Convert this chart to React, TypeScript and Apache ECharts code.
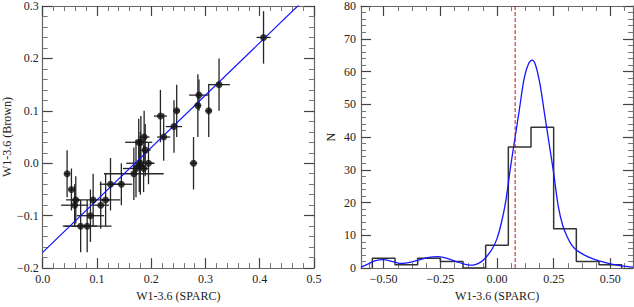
import React, { useEffect, useRef } from "react";
import * as echarts from "echarts";

// ---- Left panel: W1-3.6 (SPARC) vs W1-3.6 (Brown) ----
const sparcX = [0.045, 0.053, 0.061, 0.059, 0.093, 0.088, 0.070, 0.082, 0.107, 0.116, 0.125, 0.145, 0.168, 0.172, 0.178, 0.186, 0.195, 0.180, 0.189, 0.181, 0.187, 0.177, 0.223, 0.242, 0.217, 0.247, 0.278, 0.286, 0.288, 0.306, 0.325, 0.407];
const brownY = [-0.02, -0.05, -0.07, -0.08, -0.07, -0.10, -0.12, -0.12, -0.08, -0.07, -0.04, -0.04, -0.02, -0.01, -0.005, -0.01, 0.0, 0.0, 0.025, 0.04, 0.05, 0.04, 0.05, 0.07, 0.09, 0.10, 0.0, 0.11, 0.13, 0.10, 0.15, 0.24];
const sparcErr = [0.005, 0.005, 0.008, 0.025, 0.05, 0.025, 0.03, 0.045, 0.015, 0.01, 0.02, 0.02, 0.055, 0.024, 0.01, 0.01, 0.01, 0.026, 0.01, 0.01, 0.01, 0.025, 0.012, 0.015, 0.012, 0.006, 0.007, 0.006, 0.018, 0.006, 0.02, 0.013];
const brownErr = [0.045, 0.04, 0.045, 0.04, 0.05, 0.05, 0.05, 0.05, 0.045, 0.05, 0.05, 0.04, 0.05, 0.055, 0.05, 0.045, 0.04, 0.06, 0.05, 0.05, 0.05, 0.045, 0.045, 0.05, 0.05, 0.05, 0.05, 0.06, 0.03, 0.05, 0.05, 0.05];
const fitLine = [[0, -0.17], [0.5, 0.33]];

// ---- Right panel: histogram of W1-3.6 (SPARC) ----
const binLeftEdges = [-0.55, -0.45, -0.35, -0.25, -0.15, -0.05, 0.05, 0.15, 0.25, 0.35, 0.45];
const binCounts = [3, 1, 3, 2, 0, 7, 37, 43, 12, 2, 1];
const binRightEnd = 0.55;
const kdeX = [-0.6, -0.57, -0.54, -0.5, -0.46, -0.42, -0.38, -0.34, -0.3, -0.26, -0.22, -0.18, -0.14, -0.12, -0.1, -0.08, -0.06, -0.04, -0.02, 0.0, 0.02, 0.04, 0.06, 0.08, 0.1, 0.12, 0.14, 0.155, 0.17, 0.19, 0.21, 0.23, 0.25, 0.27, 0.29, 0.31, 0.33, 0.35, 0.38, 0.41, 0.45, 0.5, 0.55, 0.6];
const kdeY = [0.3, 1.2, 2.2, 2.6, 2.0, 1.4, 1.8, 2.6, 3.3, 3.5, 3.0, 2.0, 1.1, 0.9, 1.0, 1.5, 2.5, 4, 6, 9, 14, 21, 31, 40, 49, 58, 62.5, 63.5, 62, 56, 47, 38, 29, 19, 13, 9.5, 7, 5.5, 4.2, 3.2, 2.2, 1.3, 0.7, 0.3];
const medianX = 0.08;
const histXMajorTicks = [-0.5, -0.25, 0, 0.25, 0.5];
const histXMinorTicks = [-0.5625, -0.4375, -0.375, -0.3125, -0.1875, -0.125, -0.0625, 0.0625, 0.125, 0.1875, 0.3125, 0.375, 0.4375, 0.5625];

const FONT = "'Liberation Serif', 'Times New Roman', Times, serif";
const minus = (s: string) => s.replace("-", "\u2212");

export default function App() {
  const ref = useRef<HTMLDivElement>(null);
  useEffect(() => {
    if (!ref.current) return;
    const chart = echarts.init(ref.current, null, { renderer: "svg" });

    const axisLine = { show: true, onZero: false, lineStyle: { color: "#666", width: 1.2 } };
    const majorTick = { show: true, inside: true, length: 10, lineStyle: { color: "#444", width: 1.2 } };
    const minorTick = { show: true, splitNumber: 5, length: 5, lineStyle: { color: "#777", width: 1 } };
    const label = { color: "#222", fontFamily: FONT, fontSize: 12 };
    const nameStyle = { color: "#222", fontFamily: FONT, fontSize: 12 };
    const noLine = { show: false, onZero: false };

    const stepData: number[][] = [[binLeftEdges[0], 0]];
    binLeftEdges.forEach((e, i) => stepData.push([e, binCounts[i]]));
    stepData.push([binRightEnd, binCounts[binCounts.length - 1]]);
    stepData.push([binRightEnd, 0]);

    const option: any = {
      animation: false,
      grid: [
        { left: 41, top: 4.5, width: 273, height: 270 },
        { left: 361, top: 4, width: 272, height: 271 },
      ],
      xAxis: [
        {
          type: "value", gridIndex: 0, min: 0, max: 0.5, interval: 0.1, position: "bottom",
          axisLine, axisTick: majorTick, minorTick, splitLine: { show: false },
          axisLabel: { ...label, margin: 5, formatter: (v: number) => v.toFixed(1) },
          name: "W1-3.6 (SPARC)", nameLocation: "middle", nameGap: 21, nameTextStyle: nameStyle,
        },
        {
          type: "value", gridIndex: 0, min: 0, max: 0.5, interval: 0.1, position: "top",
          axisLine, axisTick: majorTick, minorTick, splitLine: { show: false }, axisLabel: { show: false },
        },
        {
          type: "value", gridIndex: 1, min: -0.6, max: 0.6, position: "bottom",
          axisLine, splitLine: { show: false },
          axisTick: { ...majorTick, customValues: histXMajorTicks },
          axisLabel: { ...label, margin: 5, customValues: histXMajorTicks, formatter: (v: number) => minus(v.toFixed(2)) },
          name: "W1-3.6 (SPARC)", nameLocation: "middle", nameGap: 21, nameTextStyle: nameStyle,
        },
        {
          type: "value", gridIndex: 1, min: -0.6, max: 0.6, position: "bottom",
          axisLine: noLine, splitLine: { show: false }, axisLabel: { show: false },
          axisTick: { show: true, inside: true, length: 5, customValues: histXMinorTicks, lineStyle: { color: "#777" } },
        },
        {
          type: "value", gridIndex: 1, min: -0.6, max: 0.6, position: "top",
          axisLine, splitLine: { show: false }, axisLabel: { show: false },
          axisTick: { ...majorTick, customValues: histXMajorTicks },
        },
        {
          type: "value", gridIndex: 1, min: -0.6, max: 0.6, position: "top",
          axisLine: noLine, splitLine: { show: false }, axisLabel: { show: false },
          axisTick: { show: true, inside: true, length: 5, customValues: histXMinorTicks, lineStyle: { color: "#777" } },
        },
      ],
      yAxis: [
        {
          type: "value", gridIndex: 0, min: -0.2, max: 0.3, interval: 0.1, position: "left",
          axisLine, axisTick: majorTick, minorTick, splitLine: { show: false },
          axisLabel: { ...label, margin: 4, formatter: (v: number) => minus(v.toFixed(1)) },
          name: "W1-3.6 (Brown)", nameLocation: "middle", nameGap: 27, nameRotate: 90, nameTextStyle: nameStyle,
        },
        {
          type: "value", gridIndex: 0, min: -0.2, max: 0.3, interval: 0.1, position: "right",
          axisLine, axisTick: majorTick, minorTick, splitLine: { show: false }, axisLabel: { show: false },
        },
        {
          type: "value", gridIndex: 1, min: 0, max: 80, interval: 10, position: "left",
          axisLine, axisTick: majorTick, minorTick, splitLine: { show: false },
          axisLabel: { ...label, margin: 5 },
          name: "N", nameLocation: "middle", nameGap: 24, nameRotate: 90, nameTextStyle: nameStyle,
        },
        {
          type: "value", gridIndex: 1, min: 0, max: 80, interval: 10, position: "right",
          axisLine, axisTick: majorTick, minorTick, splitLine: { show: false }, axisLabel: { show: false },
        },
      ],
      series: [
        {
          type: "custom", xAxisIndex: 0, yAxisIndex: 0, clip: true,
          data: sparcX.map((x, i) => [x, brownY[i], sparcErr[i], brownErr[i]]),
          encode: { x: 0, y: 1 },
          renderItem: (_p: any, api: any) => {
            const x = api.value(0), y = api.value(1), xe = api.value(2), ye = api.value(3);
            const a = api.coord([x - xe, y]), b = api.coord([x + xe, y]);
            const c = api.coord([x, y - ye]), d = api.coord([x, y + ye]);
            const style = { stroke: "#262626", lineWidth: 1.3 };
            return {
              type: "group",
              children: [
                { type: "line", shape: { x1: a[0], y1: a[1], x2: b[0], y2: b[1] }, style },
                { type: "line", shape: { x1: c[0], y1: c[1], x2: d[0], y2: d[1] }, style },
              ],
            };
          },
          z: 2,
        },
        {
          type: "line", xAxisIndex: 0, yAxisIndex: 0, data: fitLine, symbol: "none", clip: true,
          lineStyle: { color: "#1010ff", width: 1.2 }, z: 3,
        },
        {
          type: "scatter", xAxisIndex: 0, yAxisIndex: 0,
          data: sparcX.map((x, i) => [x, brownY[i]]),
          symbol: "circle", symbolSize: 7, itemStyle: { color: "#111" }, z: 4,
        },
        {
          type: "line", xAxisIndex: 2, yAxisIndex: 2, data: stepData, step: "end", symbol: "none",
          lineStyle: { color: "#333", width: 1.5 }, z: 2,
        },
        {
          type: "line", xAxisIndex: 2, yAxisIndex: 2, data: kdeX.map((x, i) => [x, kdeY[i]]),
          smooth: 0.3, symbol: "none", lineStyle: { color: "#1515ff", width: 1.3 }, z: 3,
        },
        {
          type: "line", xAxisIndex: 2, yAxisIndex: 2, data: [[medianX, 0], [medianX, 80]], symbol: "none",
          lineStyle: { color: "#b81414", width: 1, type: [4, 2] }, z: 4,
        },
      ],
    };
    chart.setOption(option);
    return () => chart.dispose();
  }, []);
  return <div ref={ref} style={{ position: "fixed", left: 0, top: 0, width: 634, height: 307, background: "#fff" }} />;
}
